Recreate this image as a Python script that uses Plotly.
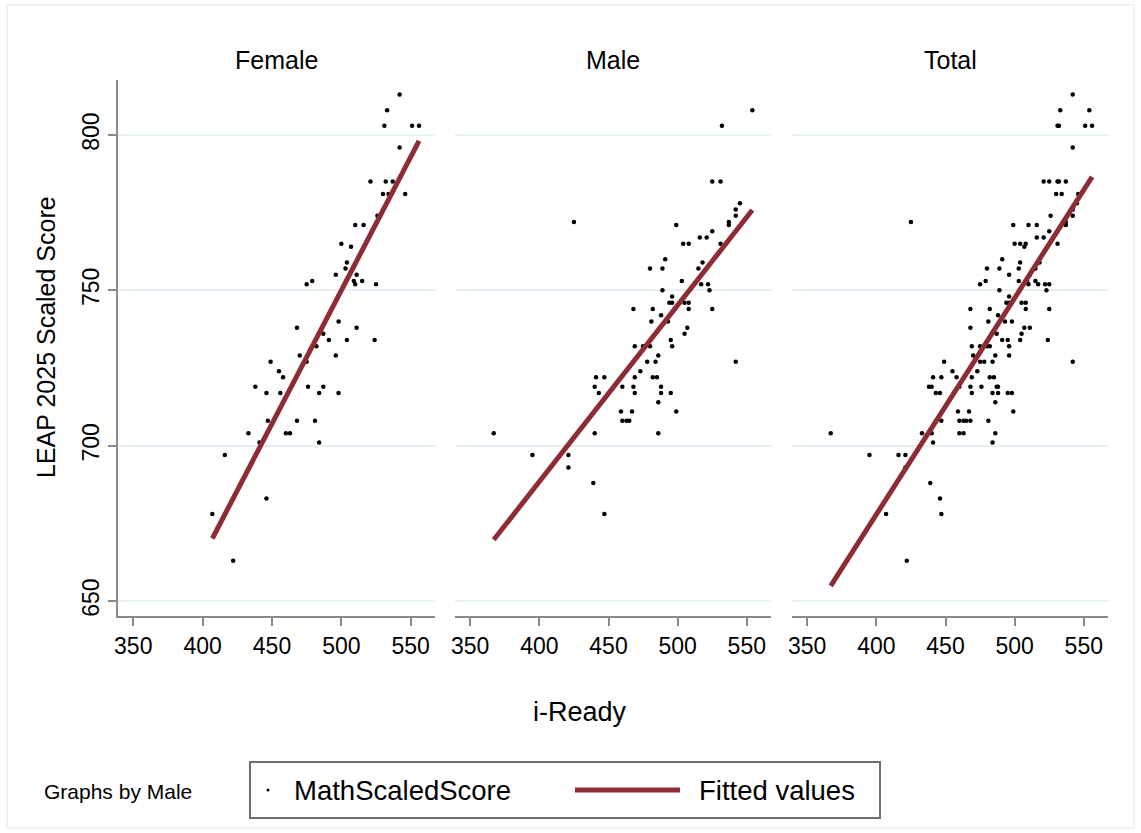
import numpy as np
import plotly.graph_objects as go

# ---------------- data ----------------
panels = ["Female", "Male", "Total"]

female_x = [542, 533, 531, 551, 556, 542, 521, 532, 537, 530,
            534, 546, 526, 510, 516, 500, 507, 504, 503, 496,
            511, 509, 510, 515, 525, 475, 479, 468, 498, 511,
            491, 504, 524, 487, 482, 470, 496, 475, 449, 455,
            458, 438, 476, 487, 446, 456, 484, 498, 447, 468,
            481, 433, 460, 463, 441, 484, 416, 446, 407, 422]
female_y = [813, 808, 803, 803, 803, 796, 785, 785, 785, 781,
            781, 781, 774, 771, 771, 765, 764, 759, 757, 755,
            755, 753, 752, 753, 752, 752, 753, 738, 740, 738,
            734, 734, 734, 736, 732, 729, 729, 727, 727, 724,
            722, 719, 719, 719, 717, 717, 717, 717, 708, 708,
            708, 704, 704, 704, 701, 701, 697, 683, 678, 663]

male_x = [554, 532, 525, 531, 545, 542, 542, 537, 537, 425,
          499, 516, 521, 525, 504, 508, 531, 491, 480, 489,
          518, 515, 503, 517, 522, 523, 489, 496, 494, 496,
          505, 508, 468, 482, 508, 525, 488, 493, 481, 507,
          505, 495, 496, 469, 475, 480, 542, 478, 484, 486,
          473, 441, 447, 469, 482, 485, 440, 443, 460, 468,
          488, 469, 488, 495, 486, 459, 467, 499, 460, 463,
          465, 367, 440, 486, 395, 421, 421, 439, 447]
male_y = [808, 803, 785, 785, 778, 776, 774, 772, 771, 772,
          771, 767, 767, 769, 765, 765, 765, 760, 757, 757,
          759, 757, 753, 752, 752, 750, 750, 748, 746, 746,
          746, 746, 744, 744, 744, 744, 742, 740, 740, 738,
          736, 734, 732, 732, 732, 732, 727, 727, 727, 729,
          724, 722, 722, 722, 722, 722, 719, 717, 719, 719,
          719, 717, 717, 717, 714, 711, 711, 711, 708, 708,
          708, 704, 704, 704, 697, 697, 693, 688, 678]

x_ticks = [350, 400, 450, 500, 550]
y_ticks = [650, 700, 750, 800]

# ---------------- styling ----------------
W, H = 1141, 833
ML, MR, MT, MB = 118, 33, 80, 217
PW, PH = W - ML - MR, H - MT - MB
FONT = "Liberation Sans, Arial, Helvetica, sans-serif"
LINE_COLOR = "#8E2C36"
GRID = "#E6EFF1"
AXIS = "#8A8A8A"


def px(x):
    return (x - ML) / PW


def py(y):
    return (H - MB - y) / PH


domains = [(px(118), px(435)), (px(455), px(771)), (px(792), px(1108))]
xrange_ = [339, 567.5]
yrange_ = [645.2, 817.7]

groups = [
    (np.array(female_x, float), np.array(female_y, float)),
    (np.array(male_x, float), np.array(male_y, float)),
    (np.array(female_x + male_x, float), np.array(female_y + male_y, float)),
]

fig = go.Figure()
for i, (gx, gy) in enumerate(groups):
    xa = "x" if i == 0 else f"x{i+1}"
    ya = "y" if i == 0 else f"y{i+1}"
    fig.add_trace(go.Scatter(
        x=gx, y=gy, mode="markers", xaxis=xa, yaxis=ya,
        marker=dict(size=4.5, color="black", symbol="circle"),
        showlegend=False, name="MathScaledScore"))
    slope, icpt = np.polyfit(gx, gy, 1)
    fx = np.array([gx.min(), gx.max()])
    fig.add_trace(go.Scatter(
        x=fx, y=icpt + slope * fx, mode="lines", xaxis=xa, yaxis=ya,
        line=dict(color=LINE_COLOR, width=5),
        showlegend=False, name="Fitted values"))

layout = dict(
    width=W, height=H,
    margin=dict(l=ML, r=MR, t=MT, b=MB),
    paper_bgcolor="white", plot_bgcolor="white",
    font=dict(family=FONT, color="black"),
    showlegend=False,
)
for i in range(3):
    xk = "xaxis" if i == 0 else f"xaxis{i+1}"
    yk = "yaxis" if i == 0 else f"yaxis{i+1}"
    layout[xk] = dict(
        domain=list(domains[i]), range=xrange_, tickvals=x_ticks,
        ticktext=[str(t) for t in x_ticks],
        showline=True, linecolor=AXIS, linewidth=2,
        ticks="outside", ticklen=8, tickwidth=1.5, tickcolor=AXIS,
        tickfont=dict(size=23, family=FONT, color="black"),
        showgrid=False, zeroline=False, anchor="y" if i == 0 else f"y{i+1}",
    )
    layout[yk] = dict(
        domain=[0, 1], range=yrange_, tickvals=y_ticks,
        showgrid=True, gridcolor=GRID, gridwidth=1.5, zeroline=False,
        anchor="x" if i == 0 else f"x{i+1}",
    )
    if i == 0:
        layout[yk].update(
            showline=True, linecolor=AXIS, linewidth=2,
            ticks="outside", ticklen=8, tickwidth=1.5, tickcolor=AXIS,
            tickangle=-90, ticktext=[str(t) for t in y_ticks],
            tickfont=dict(size=23, family=FONT, color="black"))
    else:
        layout[yk].update(showline=False, showticklabels=False, ticks="")
fig.update_layout(**layout)

annotations = []
for i, name in enumerate(panels):
    cx = (domains[i][0] + domains[i][1]) / 2
    annotations.append(dict(
        text=name, x=cx, y=py(60), xref="paper", yref="paper",
        showarrow=False, xanchor="center", yanchor="middle",
        font=dict(size=25, family=FONT, color="black")))
annotations.append(dict(
    text="LEAP 2025 Scaled Score", x=px(46), y=py(337), xref="paper",
    yref="paper", showarrow=False, textangle=-90, xanchor="center",
    yanchor="middle", font=dict(size=25, family=FONT, color="black")))
annotations.append(dict(
    text="i-Ready", x=px(580), y=py(712), xref="paper", yref="paper",
    showarrow=False, xanchor="center", yanchor="middle",
    font=dict(size=27, family=FONT, color="black")))
annotations.append(dict(
    text="Graphs by Male", x=px(42), y=py(791), xref="paper", yref="paper",
    showarrow=False, xanchor="left", yanchor="middle",
    font=dict(size=21, family=FONT, color="black")))
annotations.append(dict(
    text="MathScaledScore", x=px(292), y=py(790), xref="paper", yref="paper",
    showarrow=False, xanchor="left", yanchor="middle",
    font=dict(size=27.5, family=FONT, color="black")))
annotations.append(dict(
    text="Fitted values", x=px(697), y=py(790), xref="paper", yref="paper",
    showarrow=False, xanchor="left", yanchor="middle",
    font=dict(size=27.5, family=FONT, color="black")))

shapes = [
    # outer light frame
    dict(type="rect", xref="paper", yref="paper", x0=px(7), x1=px(1134),
         y0=py(828), y1=py(5), line=dict(color="#E9EFF1", width=1.5)),
    # legend box
    dict(type="rect", xref="paper", yref="paper", x0=px(250), x1=px(880),
         y0=py(818), y1=py(762), line=dict(color="#6E6E6E", width=2),
         fillcolor="white"),
    # legend line
    dict(type="line", xref="paper", yref="paper", x0=px(575), x1=px(680),
         y0=py(790), y1=py(790), line=dict(color=LINE_COLOR, width=5)),
    # legend dot
    dict(type="circle", xref="paper", yref="paper", x0=px(266.5), x1=px(269.5),
         y0=py(791.5), y1=py(788.5), fillcolor="black",
         line=dict(color="black", width=0)),
]
fig.update_layout(annotations=annotations, shapes=shapes)

fig.write_html("out.html")
